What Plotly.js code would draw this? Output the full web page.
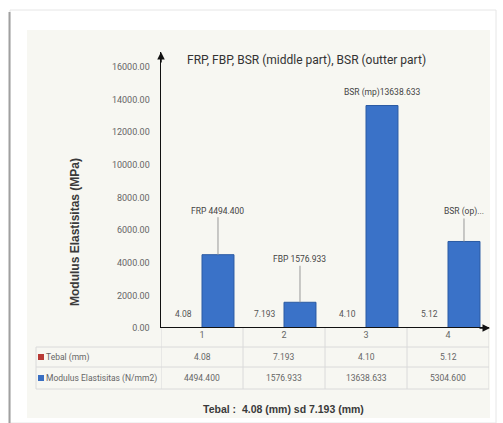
<!DOCTYPE html>
<html><head><meta charset="utf-8">
<script src="https://cdn.plot.ly/plotly-3.0.1.min.js"></script>
<style>html,body{margin:0;padding:0;background:#fff;}#chart{width:503px;height:423px;}</style>
</head><body><div id="chart"></div>
<script>
// ---- data ----
const categories = ["1", "2", "3", "4"];
const tebal = [4.08, 7.193, 4.10, 5.12];
const tebalText = ["4.08", "7.193", "4.10", "5.12"];
const modulus = [4494.400, 1576.933, 13638.633, 5304.600];
const modulusText = ["4494.400", "1576.933", "13638.633", "5304.600"];
const modulusLabels = ["FRP 4494.400", "FBP 1576.933", "BSR (mp)13638.633", "BSR (op)..."];
const seriesNames = ["Tebal (mm)", "Modulus Elastisitas (N/mm2)"];
const yTicks = [0, 2000, 4000, 6000, 8000, 10000, 12000, 14000, 16000];
const chartTitle = "FRP, FBP, BSR (middle part), BSR (outter part)";
const yTitle = "Modulus Elastisitas (MPa)";
const xTitle = "Tebal :  4.08 (mm) sd 7.193 (mm)";

// ---- layout helpers (pixel -> paper) ----
const L = 161, R = 489, T = 52, B = 328;
const px = v => (v - L) / (R - L);
const py = v => (B - v) / (B - T);
const NARROW = "Roboto, sans-serif";
const idx = categories.map((c, i) => i);

const traces = [
  {type: "bar", name: seriesNames[0], x: idx, y: tebal,
   marker: {color: "#b83a35"}, hoverinfo: "skip"},
  {type: "bar", name: seriesNames[1], x: idx, y: modulus,
   marker: {color: "#3a72c8", line: {color: "#2a5aa3", width: 1}}, hoverinfo: "skip"}
];

const shapes = [];
shapes.push({type: "rect", xref: "paper", yref: "paper", layer: "below",
  x0: px(10), x1: px(496), y0: py(10), y1: py(423),
  fillcolor: "#ffffff", line: {color: "#e6e6e6", width: 1}});
shapes.push({type: "line", xref: "paper", yref: "paper", layer: "below",
  x0: px(9.5), x1: px(9.5), y0: py(12), y1: py(423), line: {color: "#a0a0a0", width: 2}});
shapes.push({type: "rect", xref: "paper", yref: "paper", layer: "below",
  x0: px(27), x1: px(490), y0: py(30), y1: py(418),
  fillcolor: "#f7f7f2", line: {width: 0}});
[347, 367, 389].forEach(yy => shapes.push({type: "line", xref: "paper", yref: "paper",
  x0: px(36), x1: px(489), y0: py(yy), y1: py(yy), line: {color: "#dadada", width: 1}}));
shapes.push({type: "line", xref: "paper", yref: "paper",
  x0: px(36), x1: px(36), y0: py(347), y1: py(389), line: {color: "#dadada", width: 1}});
for (let k = 0; k <= categories.length; k++) {
  shapes.push({type: "line", xref: "x", yref: "paper",
    x0: k - 0.5, x1: k - 0.5, y0: 0, y1: py(389), line: {color: "#dadada", width: 1}});
}
shapes.push({type: "rect", xref: "paper", yref: "paper",
  x0: px(38), x1: px(44), y0: py(354), y1: py(360), fillcolor: "#b83a35", line: {width: 0}});
shapes.push({type: "rect", xref: "paper", yref: "paper",
  x0: px(38), x1: px(44), y0: py(375), y1: py(381), fillcolor: "#3a6fc2", line: {width: 0}});

const annotations = [];
const tableFont = {family: NARROW, size: 8.5, color: "#666"};
annotations.push({xref: "paper", yref: "paper", x: px(44), y: py(357), xanchor: "left",
  yanchor: "middle", text: seriesNames[0], showarrow: false, font: tableFont});
annotations.push({xref: "paper", yref: "paper", x: px(44), y: py(378), xanchor: "left",
  yanchor: "middle", text: seriesNames[1], showarrow: false, font: tableFont});
idx.forEach(i => {
  annotations.push({xref: "x", yref: "paper", x: i, y: py(357), text: tebalText[i],
    showarrow: false, font: tableFont, yanchor: "middle"});
  annotations.push({xref: "x", yref: "paper", x: i, y: py(378), text: modulusText[i],
    showarrow: false, font: tableFont, yanchor: "middle"});
  annotations.push({xref: "x", yref: "y", x: i - 0.23, y: tebal[i], text: tebalText[i],
    showarrow: false, yanchor: "bottom", yshift: 7, font: {family: NARROW, size: 8.5, color: "#555"}});
});
const offs = [-44, -43, null, -30];
idx.forEach(i => {
  if (offs[i] === null) {
    annotations.push({xref: "x", yref: "y", x: i + 0.195, y: modulus[i], text: modulusLabels[i],
      showarrow: false, yanchor: "bottom", yshift: 6, font: {family: NARROW, size: 8.5, color: "#444"}});
  } else {
    annotations.push({xref: "x", yref: "y", x: i + 0.195, y: modulus[i], text: modulusLabels[i],
      showarrow: true, arrowhead: 0, arrowwidth: 1, arrowcolor: "#999", ax: 0, ay: offs[i],
      standoff: 0, font: {family: NARROW, size: 8.5, color: "#444"}});
  }
});
annotations.push({xref: "paper", yref: "paper", x: 0, y: 1, ax: 0, ay: 12, text: "",
  showarrow: true, arrowhead: 2, arrowsize: 1, arrowwidth: 1.5, arrowcolor: "#111", standoff: 0});
annotations.push({xref: "paper", yref: "paper", x: 1.003, y: 0, ax: -12, ay: 0, text: "",
  showarrow: true, arrowhead: 2, arrowsize: 1, arrowwidth: 1.5, arrowcolor: "#111", standoff: 0});
annotations.push({xref: "paper", yref: "paper", x: px(75), y: py(232), textangle: -90,
  xanchor: "center", yanchor: "middle",
  text: "<b>" + yTitle + "</b>", showarrow: false,
  font: {family: "Liberation Sans, Arial, sans-serif", size: 12, color: "#3a3a3a"}});
annotations.push({xref: "paper", yref: "paper", x: px(283), y: py(409),
  xanchor: "center", yanchor: "middle",
  text: "<b>" + xTitle + "</b>", showarrow: false,
  font: {family: "Liberation Sans, Arial, sans-serif", size: 10.5, color: "#3a3a3a"}});
annotations.push({xref: "paper", yref: "paper", x: px(306), y: py(60),
  xanchor: "center", yanchor: "middle",
  text: chartTitle, showarrow: false,
  font: {family: NARROW, size: 12, color: "#333"}});

const layout = {
  width: 503, height: 423,
  margin: {l: L, r: 503 - R, t: T, b: 423 - B, pad: 0},
  paper_bgcolor: "#ffffff", plot_bgcolor: "rgba(0,0,0,0)",
  showlegend: false, barmode: "group", bargap: 0.22, bargroupgap: 0,
  xaxis: {range: [-0.5, categories.length - 0.5], tickvals: idx, ticktext: categories,
    showgrid: false, zeroline: false, showline: false, ticks: "",
    tickfont: {family: NARROW, size: 9, color: "#666"}, fixedrange: true},
  yaxis: {range: [0, 16920], tickvals: yTicks, tickformat: ".2f",
    showgrid: false, zeroline: false, showline: true, linecolor: "#111", linewidth: 1.5,
    ticks: "", ticklabelstandoff: 8,
    tickfont: {family: NARROW, size: 9, color: "#666"}, fixedrange: true},
  shapes: shapes, annotations: annotations
};
layout.shapes.push({type: "line", xref: "paper", yref: "y", x0: 0, x1: 1, y0: 0, y1: 0,
  line: {color: "#111", width: 2}});

Plotly.newPlot("chart", traces, layout, {staticPlot: true, displayModeBar: false});
</script></body></html>
